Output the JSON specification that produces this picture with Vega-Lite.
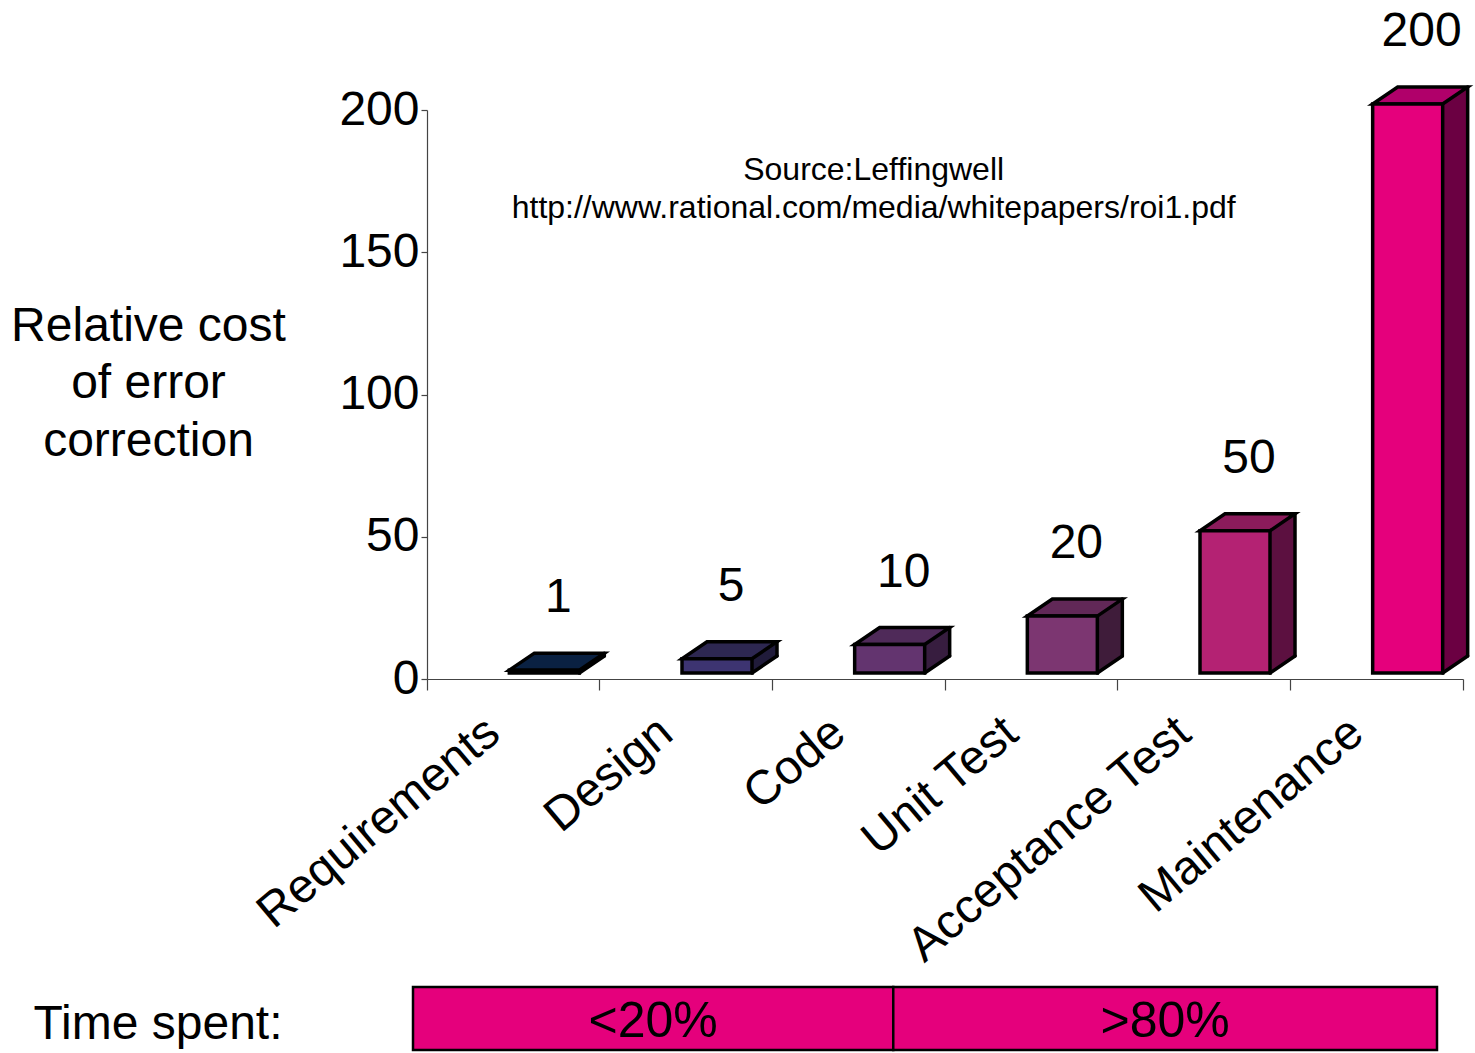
{
  "$schema": "https://vega.github.io/schema/vega-lite/v6.json",
  "autosize": {"type": "pad"},
  "padding": {"left": 10, "top": 8, "right": 0, "bottom": 0},
  "background": "white",
  "bounds": "flush",
  "spacing": 308,
  "config": {
    "view": {"stroke": null},
    "font": "Liberation Sans",
    "text": {"font": "Liberation Sans", "color": "black"}
  },
  "vconcat": [
    {
      "width": 1036,
      "height": 569,
      "data": {"values": [
        {"stage": "Requirements", "cost": 1},
        {"stage": "Design", "cost": 5},
        {"stage": "Code", "cost": 10},
        {"stage": "Unit Test", "cost": 20},
        {"stage": "Acceptance Test", "cost": 50},
        {"stage": "Maintenance", "cost": 200}
      ]},
      "encoding": {
        "x": {
          "field": "stage", "type": "nominal",
          "scale": {"domain": ["Requirements", "Design", "Code", "Unit Test", "Acceptance Test", "Maintenance"], "paddingInner": 0, "paddingOuter": 0},
          "axis": {
            "title": null, "bandPosition": 1, "tickExtra": true, "tickSize": 11,
            "tickColor": "#444444", "domainColor": "#444444", "tickWidth": 1.2, "domainWidth": 1.2,
            "labelAngle": -40, "labelAlign": "right", "labelBaseline": "top",
            "labelFontSize": 48, "labelFont": "Liberation Sans", "labelColor": "black",
            "labelOffset": -35, "labelPadding": 18, "labelOverlap": false, "labelLimit": 1000, "grid": false
          }
        },
        "y": {
          "field": "cost", "type": "quantitative",
          "scale": {"domain": [0, 200], "nice": false},
          "axis": {
            "values": [0, 50, 100, 150, 200], "grid": false,
            "tickSize": 6, "tickColor": "#444444", "domainColor": "#444444", "tickWidth": 1.2, "domainWidth": 1.2,
            "labelFontSize": 48, "labelFont": "Liberation Sans", "labelColor": "black", "labelPadding": 2,
            "title": ["Relative cost", "of error", "correction"],
            "titleAngle": 0, "titleAlign": "center", "titleBaseline": "alphabetic",
            "titleX": -279, "titleY": 230, "titleFontSize": 48, "titleFontWeight": "normal",
            "titleFont": "Liberation Sans", "titleColor": "black", "titleLineHeight": 57.5
          }
        }
      },
      "layer": [
        {
          "mark": {"type": "bar", "width": 25, "xOffset": 78.5, "yOffset": -23, "y2Offset": -6, "strokeWidth": 0},
          "encoding": {
            "y2": {"datum": 0},
            "fill": {"field": "stage", "type": "nominal", "legend": null,
              "scale": {"domain": ["Requirements", "Design", "Code", "Unit Test", "Acceptance Test", "Maintenance"],
                "range": ["#071a35", "#201b3a", "#371d3f", "#3f1c3a", "#5c1040", "#6b0042"]}}
          }
        },
        {
          "mark": {"type": "point", "shape": "M 0 0 L 25 -17 L 28 -17 L 28 3 L 0 3 Z", "size": 4, "filled": true, "fill": "white", "strokeWidth": 0, "opacity": 1, "xOffset": 66, "yOffset": -6},
          "encoding": {"y": {"datum": 0}}
        },
        {
          "mark": {"type": "point", "shape": "M -35 0 L 35 0 L 60 -17 L -10 -17 Z", "size": 4, "filled": true, "stroke": "black", "strokeWidth": 3.5, "opacity": 1, "xOffset": 31, "yOffset": -6},
          "encoding": {
            "fill": {"field": "stage", "type": "nominal", "legend": null,
              "scale": {"domain": ["Requirements", "Design", "Code", "Unit Test", "Acceptance Test", "Maintenance"],
                "range": ["#0a2142", "#2d2751", "#4f2a59", "#612857", "#8b1b5b", "#b0006a"]}}
          }
        },
        {
          "mark": {"type": "bar", "width": 70, "xOffset": 31, "yOffset": -6, "y2Offset": -6, "stroke": "black", "strokeWidth": 3.5},
          "encoding": {
            "y2": {"datum": 0},
            "fill": {"field": "stage", "type": "nominal", "legend": null,
              "scale": {"domain": ["Requirements", "Design", "Code", "Unit Test", "Acceptance Test", "Maintenance"],
                "range": ["#0c2548", "#3d3471", "#63346f", "#7c3671", "#b42273", "#e5007c"]}}
          }
        },
        {
          "mark": {"type": "rule", "xOffset": 91, "yOffset": -23, "y2Offset": -23, "stroke": "black", "strokeWidth": 3.5, "strokeCap": "round"},
          "encoding": {"y2": {"datum": 0}}
        },
        {
          "mark": {"type": "point", "shape": "M 0 0 L 25 -17", "size": 4, "filled": false, "stroke": "black", "strokeWidth": 3.5, "strokeCap": "round", "opacity": 1, "xOffset": 66, "yOffset": -6},
          "encoding": {"y": {"datum": 0}}
        },
        {
          "mark": {"type": "text", "fontSize": 48, "dx": 45, "dy": -78, "baseline": "middle", "align": "center", "color": "black"},
          "encoding": {"text": {"field": "cost", "type": "quantitative"}}
        },
        {
          "transform": [{"filter": "datum.stage === 'Code'"}],
          "mark": {"type": "text", "text": ["Source:Leffingwell", "http://www.rational.com/media/whitepapers/roi1.pdf"], "fontSize": 32, "lineHeight": 38, "dx": 15, "baseline": "alphabetic", "align": "center", "color": "black"},
          "encoding": {"y": {"datum": 175.4}}
        }
      ],
      "resolve": {"scale": {"fill": "independent"}}
    },
    {
      "width": 1024,
      "height": 63,
      "data": {"values": [
        {"label": "Time spent:", "period": "<20%", "share": 46.9},
        {"label": "Time spent:", "period": ">80%", "share": 53.1}
      ]},
      "encoding": {
        "y": {"field": "label", "type": "nominal",
          "scale": {"paddingInner": 0, "paddingOuter": 0},
          "axis": {"title": null, "domain": false, "ticks": false, "tickSize": 0, "labelPadding": 145, "labelOffset": 6, "labelLimit": 1000,
            "labelFontSize": 48, "labelFont": "Liberation Sans", "labelColor": "black"}}
      },
      "layer": [
        {
          "mark": {"type": "bar", "fill": "#e5007c", "stroke": "black", "strokeWidth": 2.5, "xOffset": -14, "x2Offset": -14},
          "encoding": {
            "x": {"field": "share", "type": "quantitative", "stack": "zero", "scale": {"domain": [0, 100], "nice": false}, "axis": null},
            "detail": {"field": "period"},
            "order": {"field": "period", "sort": "ascending"}
          }
        },
        {
          "mark": {"type": "text", "font": "Liberation Sans", "fontSize": 50, "dx": -14, "dy": 3, "baseline": "middle", "align": "center", "color": "black"},
          "encoding": {
            "x": {"field": "share", "type": "quantitative", "stack": "zero", "bandPosition": 0.5, "axis": null},
            "detail": {"field": "period"},
            "order": {"field": "period", "sort": "ascending"},
            "text": {"field": "period"}
          }
        }
      ]
    }
  ]
}
